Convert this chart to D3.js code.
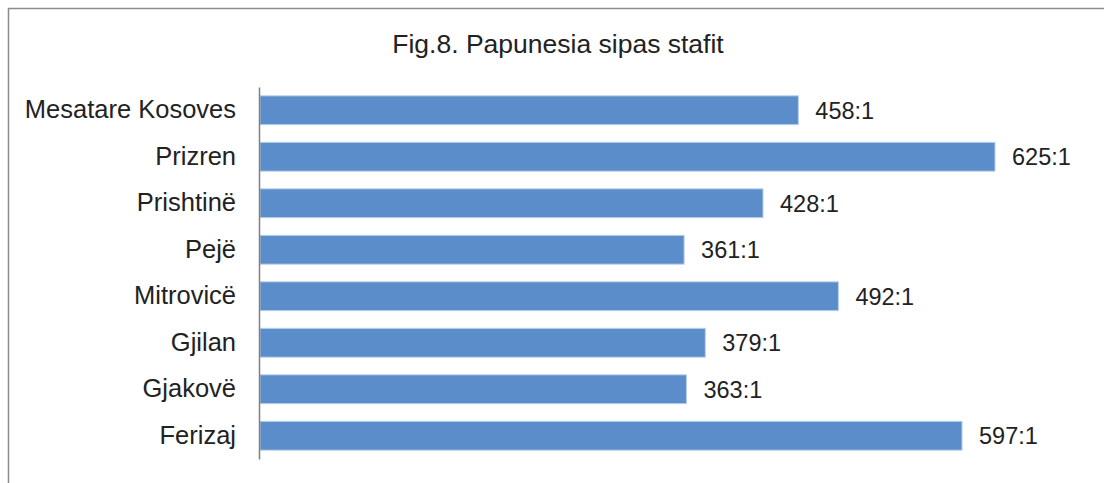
<!DOCTYPE html>
<html>
<head>
  <meta charset="utf-8">
  <script src="https://d3js.org/d3.v7.min.js"></script>
  <style>
    body { margin: 0; background: #fff; }
    text { font-family: "Liberation Sans", Arial, sans-serif; fill: #222; }
  </style>
</head>
<body>
<div id="chart"></div>
<script>

  var categories = ['Mesatare Kosoves', 'Prizren', 'Prishtinë', 'Pejë', 'Mitrovicë', 'Gjilan', 'Gjakovë', 'Ferizaj'];
  var values = [458, 625, 428, 361, 492, 379, 363, 597];
  var valueLabels = ['458:1', '625:1', '428:1', '361:1', '492:1', '379:1', '363:1', '597:1'];
  var title = 'Fig.8. Papunesia sipas stafit';

  var width = 1104, height = 483;
  var svg = d3.select('#chart').append('svg')
    .attr('width', width)
    .attr('height', height);

  // chart frame (right and bottom edges are cropped off)
  svg.append('path')
    .attr('d', 'M8.5,' + height + 'V8.5H' + width)
    .attr('fill', 'none')
    .attr('stroke', '#8c8c8c')
    .attr('stroke-width', 1.5);

  svg.append('text')
    .attr('x', 558)
    .attr('y', 53)
    .attr('text-anchor', 'middle')
    .style('font-size', '26.5px')
    .text(title);

  var x0 = 259;
  var x = d3.scaleLinear().domain([0, 700]).range([x0, x0 + 700 * 1.1776]);
  var y = d3.scaleBand().domain(categories).range([87, 459]).paddingInner(0.38).paddingOuter(0.19);

  svg.selectAll('rect.bar')
    .data(values)
    .enter().append('rect')
    .attr('class', 'bar')
    .attr('x', x(0) + 1)
    .attr('y', function(d, i) { return y(categories[i]); })
    .attr('width', function(d) { return x(d) - x(0) - 1; })
    .attr('height', y.bandwidth())
    .attr('fill', '#5a8dca')
    .attr('stroke', '#b9cfea')
    .attr('stroke-width', 1);

  svg.selectAll('text.val')
    .data(values)
    .enter().append('text')
    .attr('class', 'val')
    .attr('x', function(d) { return x(d) + 17; })
    .attr('y', function(d, i) { return y(categories[i]) + y.bandwidth() / 2; })
    .attr('dy', '0.36em')
    .style('font-size', '23.5px')
    .text(function(d, i) { return valueLabels[i]; });

  var axis = svg.append('g')
    .attr('transform', 'translate(' + x0 + ',0)')
    .call(d3.axisLeft(y).tickSize(0).tickPadding(23));
  axis.select('.domain').attr('stroke', '#808080').attr('stroke-width', 1.5);
  axis.selectAll('text')
    .style('font-size', '25.5px')
    .style('font-family', '"Liberation Sans", Arial, sans-serif')
    .attr('fill', '#222');

</script>
</body>
</html>
